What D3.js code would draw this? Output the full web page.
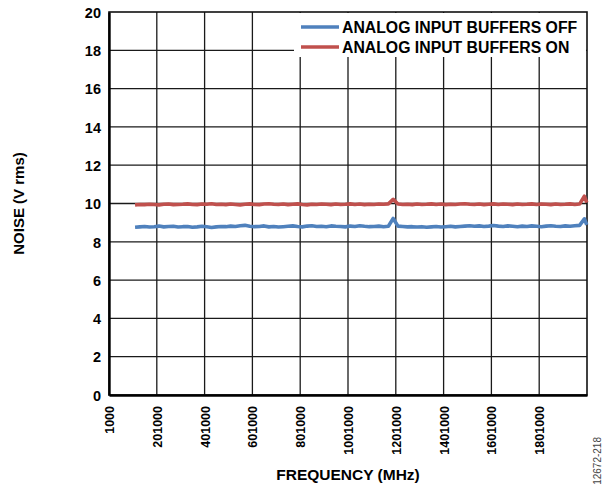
<!DOCTYPE html>
<html>
<head>
<meta charset="utf-8">
<script src="https://cdn.jsdelivr.net/npm/d3@7"></script>
<style>
  body { margin: 0; background: #fff; }
  svg { display: block; font-family: "Liberation Sans", Arial, sans-serif; }
</style>
</head>
<body>
<svg id="chart" width="603" height="488"></svg>
<script>
// frequency points (as plotted on the x axis)
const freq = [
  110000, 130000, 150000, 170000, 190000, 210000, 230000, 250000, 270000, 290000,
  310000, 330000, 350000, 370000, 390000, 410000, 430000, 450000, 470000, 490000,
  510000, 530000, 550000, 570000, 590000, 610000, 630000, 650000, 670000, 690000,
  710000, 730000, 750000, 770000, 790000, 810000, 830000, 850000, 870000, 890000,
  910000, 930000, 950000, 970000, 990000, 1010000, 1030000, 1050000, 1070000, 1090000,
  1110000, 1130000, 1150000, 1170000, 1190000, 1210000, 1230000, 1250000, 1270000, 1290000,
  1310000, 1330000, 1350000, 1370000, 1390000, 1410000, 1430000, 1450000, 1470000, 1490000,
  1510000, 1530000, 1550000, 1570000, 1590000, 1610000, 1630000, 1650000, 1670000, 1690000,
  1710000, 1730000, 1750000, 1770000, 1790000, 1810000, 1830000, 1850000, 1870000, 1890000,
  1910000, 1930000, 1950000, 1970000, 1990000, 2000000
];

// noise, buffers off (blue)
const noiseOff = [
  8.76, 8.78, 8.80, 8.77, 8.79, 8.82, 8.78, 8.80, 8.81, 8.77,
  8.79, 8.80, 8.76, 8.78, 8.81, 8.79, 8.75, 8.78, 8.80, 8.79,
  8.82, 8.80, 8.84, 8.86, 8.81, 8.79, 8.80, 8.83, 8.78, 8.80,
  8.77, 8.79, 8.81, 8.83, 8.80, 8.78, 8.82, 8.84, 8.80, 8.81,
  8.79, 8.83, 8.81, 8.80, 8.78, 8.82, 8.80, 8.84, 8.81, 8.79,
  8.80, 8.82, 8.79, 8.81, 9.22, 8.82, 8.80, 8.78, 8.79, 8.77,
  8.79, 8.76, 8.78, 8.80, 8.77, 8.79, 8.81, 8.78, 8.80, 8.82,
  8.84, 8.81, 8.83, 8.80, 8.82, 8.85, 8.82, 8.80, 8.83, 8.81,
  8.79, 8.82, 8.80, 8.83, 8.81, 8.79, 8.82, 8.84, 8.81, 8.80,
  8.83, 8.81, 8.84, 8.86, 9.20, 8.88
];

// noise, buffers on (red)
const noiseOn = [
  9.93, 9.95, 9.94, 9.96, 9.95, 9.93, 9.96, 9.97, 9.94, 9.95,
  9.96, 9.98, 9.95, 9.94, 9.97, 9.96, 9.99, 9.95, 9.96, 9.94,
  9.97, 9.95, 9.93, 9.96, 9.98, 9.95, 9.94, 9.97, 9.99, 9.96,
  9.95, 9.97, 9.94, 9.96, 9.98, 9.95, 9.93, 9.96, 9.95, 9.97,
  9.96, 9.94, 9.97, 9.95, 9.96, 9.98, 9.95, 9.97, 9.94, 9.96,
  9.95, 9.97, 9.96, 9.98, 10.22, 9.97, 9.95, 9.96, 9.94, 9.97,
  9.95, 9.96, 9.98, 9.95, 9.97, 9.94, 9.96, 9.95, 9.97, 9.99,
  9.96, 9.95, 9.97, 9.94, 9.96, 9.98, 9.95, 9.97, 9.96, 9.94,
  9.97, 9.95, 9.96, 9.98, 9.95, 9.97, 9.96, 9.94, 9.97, 9.95,
  9.96, 9.98, 9.95, 9.97, 10.38, 10.05
];

const xTicks = [1000, 201000, 401000, 601000, 801000, 1001000, 1201000, 1401000, 1601000, 1801000];
const yTicks = [0, 2, 4, 6, 8, 10, 12, 14, 16, 18, 20];
const seriesNames = ["ANALOG INPUT BUFFERS OFF", "ANALOG INPUT BUFFERS ON"];
const seriesColours = ["#4f81bd", "#c0504d"];

const margin = { top: 12, right: 16, bottom: 93, left: 109 };
const width = 603;
const height = 488;

const svg = d3.select("#chart");

const x = d3
  .scaleLinear()
  .domain([1000, 2001000])
  .range([margin.left, width - margin.right]);
const y = d3
  .scaleLinear()
  .domain([0, 20])
  .range([height - margin.bottom, margin.top]);

// grid
const grid = svg.append("g").attr("stroke", "#1a1a1a").attr("stroke-width", 1.3);
grid
  .selectAll(".vgrid")
  .data(xTicks.slice(1))
  .enter()
  .append("line")
  .attr("x1", d => x(d))
  .attr("x2", d => x(d))
  .attr("y1", y(0))
  .attr("y2", y(20));
grid
  .selectAll(".hgrid")
  .data(yTicks.slice(1, -1))
  .enter()
  .append("line")
  .attr("x1", x(1000))
  .attr("x2", x(2001000))
  .attr("y1", d => y(d))
  .attr("y2", d => y(d));

// legend background hides the grid behind it
svg
  .append("rect")
  .attr("x", 294)
  .attr("y", y(20) + 1)
  .attr("width", x(2001000) - 295)
  .attr("height", 44)
  .attr("fill", "#fff");

// frame
svg
  .append("rect")
  .attr("x", x(1000))
  .attr("y", y(20))
  .attr("width", x(2001000) - x(1000))
  .attr("height", y(0) - y(20))
  .attr("fill", "none")
  .attr("stroke", "#111")
  .attr("stroke-width", 1.6);

// data
const line = d3
  .line()
  .x((d, i) => x(freq[i]))
  .y(d => y(d));

[noiseOff, noiseOn].forEach((series, i) => {
  svg
    .append("path")
    .datum(series)
    .attr("d", line)
    .attr("fill", "none")
    .attr("stroke", seriesColours[i])
    .attr("stroke-width", 3.6)
    .attr("stroke-linejoin", "round");
});

// left and bottom axis lines are heavier
const axisX = d3.axisBottom(x).tickValues(xTicks).tickSize(0).tickFormat(d3.format("d"));
const axisY = d3.axisLeft(y).tickValues(yTicks).tickSize(0).tickFormat(d3.format("d"));

const gx = svg
  .append("g")
  .attr("transform", `translate(0,${y(0)})`)
  .call(axisX);
gx.select(".domain").attr("stroke", "#000").attr("stroke-width", 2.4);
gx.selectAll("text")
  .attr("transform", "rotate(-90)")
  .attr("x", -11)
  .attr("y", 0)
  .attr("dy", "0.36em")
  .attr("text-anchor", "end")
  .attr("fill", "#000")
  .style("font-size", "12.5px")
  .style("font-weight", "bold")
  .style("font-family", "'Liberation Sans', Arial, sans-serif");

const gy = svg
  .append("g")
  .attr("transform", `translate(${x(1000)},0)`)
  .call(axisY);
gy.select(".domain").attr("stroke", "#000").attr("stroke-width", 2.4);
gy.selectAll("text")
  .attr("x", -8)
  .attr("dy", "0.36em")
  .attr("fill", "#000")
  .style("font-size", "14.5px")
  .style("font-weight", "bold")
  .style("font-family", "'Liberation Sans', Arial, sans-serif");

// axis titles
svg
  .append("text")
  .attr("x", (x(1000) + x(2001000)) / 2)
  .attr("y", 480)
  .attr("text-anchor", "middle")
  .style("font-size", "15.5px")
  .style("font-weight", "bold")
  .text("FREQUENCY (MHz)");

svg
  .append("text")
  .attr("transform", `translate(24,${(y(0) + y(20)) / 2}) rotate(-90)`)
  .attr("text-anchor", "middle")
  .style("font-size", "15px")
  .style("font-weight", "bold")
  .text("NOISE (V rms)");

// legend
const legend = svg
  .selectAll(".legend")
  .data(seriesNames)
  .enter()
  .append("g")
  .attr("transform", (d, i) => `translate(301,${27 + i * 20})`);
legend
  .append("line")
  .attr("x1", 0)
  .attr("x2", 38)
  .attr("stroke", (d, i) => seriesColours[i])
  .attr("stroke-width", 3.4);
legend
  .append("text")
  .attr("x", 41)
  .attr("dy", "0.36em")
  .style("font-size", "15.8px")
  .style("font-weight", "bold")
  .text(d => d);

// figure id
svg
  .append("text")
  .attr("transform", "translate(601,437) rotate(-90)")
  .attr("text-anchor", "end")
  .attr("fill", "#444")
  .style("font-size", "10px")
  .text("12672-218");
</script>
</body>
</html>
